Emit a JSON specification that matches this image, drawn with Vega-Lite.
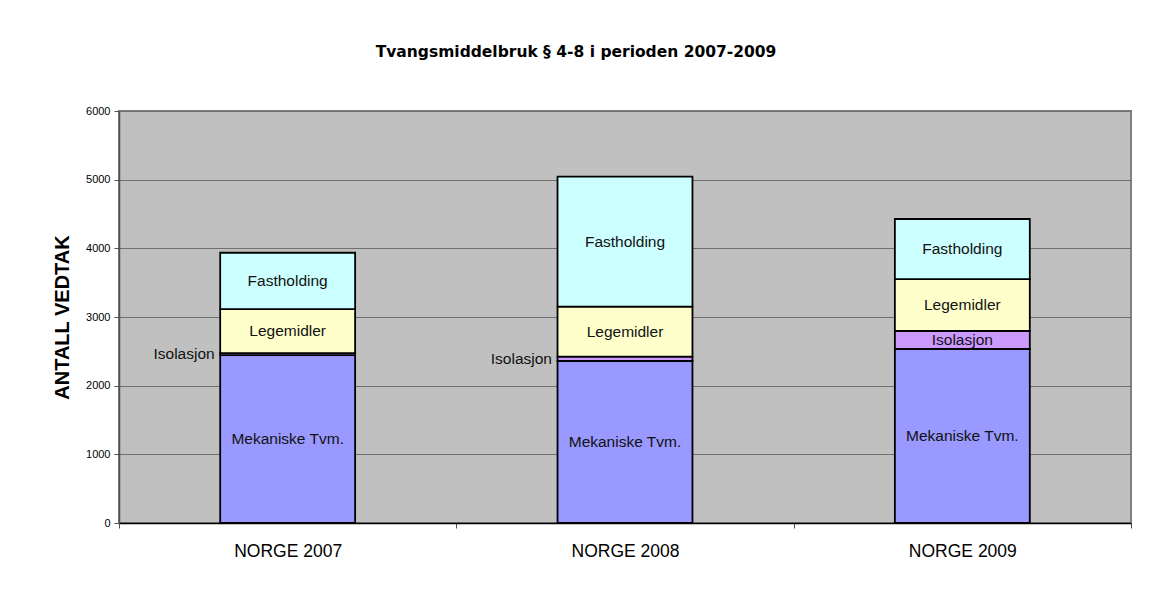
{
  "$schema": "https://vega.github.io/schema/vega-lite/v6.json",
  "width": 1012,
  "height": 412,
  "autosize": {"type": "none"},
  "padding": {"left": 119, "top": 111, "right": 20, "bottom": 68},
  "background": "white",
  "title": {
    "text": "Tvangsmiddelbruk § 4-8 i perioden 2007-2009",
    "font": "DejaVu Sans",
    "fontSize": 15.5,
    "fontWeight": "bold",
    "color": "black",
    "anchor": "middle",
    "frame": "group",
    "dx": -49,
    "offset": 45
  },
  "data": {
    "values": [
      {"year": "NORGE 2007", "type": "Mekaniske Tvm.", "value": 2445},
      {"year": "NORGE 2007", "type": "Isolasjon", "value": 30},
      {"year": "NORGE 2007", "type": "Legemidler", "value": 641},
      {"year": "NORGE 2007", "type": "Fastholding", "value": 820},
      {"year": "NORGE 2008", "type": "Mekaniske Tvm.", "value": 2359},
      {"year": "NORGE 2008", "type": "Isolasjon", "value": 63},
      {"year": "NORGE 2008", "type": "Legemidler", "value": 728},
      {"year": "NORGE 2008", "type": "Fastholding", "value": 1893},
      {"year": "NORGE 2009", "type": "Mekaniske Tvm.", "value": 2534},
      {"year": "NORGE 2009", "type": "Isolasjon", "value": 262},
      {"year": "NORGE 2009", "type": "Legemidler", "value": 757},
      {"year": "NORGE 2009", "type": "Fastholding", "value": 874}
    ]
  },
  "transform": [
    {"calculate": "indexof(['Mekaniske Tvm.','Isolasjon','Legemidler','Fastholding'], datum.type)", "as": "rank"},
    {"stack": "value", "groupby": ["year"], "sort": [{"field": "rank", "order": "ascending"}], "as": ["v0", "v1"]},
    {"calculate": "(datum.v0 + datum.v1) / 2", "as": "vmid"}
  ],
  "encoding": {
    "x": {
      "field": "year",
      "type": "nominal",
      "sort": null,
      "scale": {"paddingInner": 0, "paddingOuter": 0},
      "axis": {
        "title": null,
        "labelAngle": 0,
        "tickBand": "extent",
        "tickSize": 5,
        "tickColor": "#505050",
        "domainColor": "black",
        "domainWidth": 1.5,
        "labelFontSize": 17.5,
        "labelFont": "Liberation Sans",
        "labelColor": "black",
        "labelPadding": 14,
        "grid": false
      }
    }
  },
  "layer": [
    {
      "mark": {"type": "bar", "width": {"band": 0.4}, "stroke": "black", "strokeWidth": 1.8},
      "encoding": {
        "y": {
          "field": "v0",
          "type": "quantitative",
          "title": "ANTALL VEDTAK",
          "scale": {"domain": [0, 6000], "nice": false},
          "axis": {
            "values": [0, 1000, 2000, 3000, 4000, 5000, 6000],
            "format": "d",
            "grid": true,
            "gridColor": "#707070",
            "gridWidth": 1,
            "domainColor": "#505050",
            "domainWidth": 1.5,
            "tickColor": "#505050",
            "tickSize": 5,
            "labelFontSize": 11,
            "labelFont": "Liberation Sans",
            "labelColor": "black",
            "labelPadding": 4,
            "titleFontSize": 20,
            "titleFont": "Liberation Sans",
            "titleFontWeight": "bold",
            "titleColor": "black",
            "titlePadding": 13.5
          }
        },
        "y2": {"field": "v1"},
        "color": {
          "field": "type",
          "type": "nominal",
          "scale": {
            "domain": ["Mekaniske Tvm.", "Isolasjon", "Legemidler", "Fastholding"],
            "range": ["#9999FF", "#CC99FF", "#FFFFCC", "#CCFFFF"]
          },
          "legend": null
        }
      }
    },
    {
      "transform": [{"filter": "datum.value >= 100"}],
      "mark": {"type": "text", "align": "center", "baseline": "middle", "font": "Liberation Sans", "fontSize": 15.5, "color": "#111111"},
      "encoding": {
        "y": {"field": "vmid", "type": "quantitative", "title": "ANTALL VEDTAK"},
        "text": {"field": "type"}
      }
    },
    {
      "transform": [{"filter": "datum.value < 100"}],
      "mark": {"type": "text", "align": "right", "baseline": "middle", "dx": -73, "font": "Liberation Sans", "fontSize": 15.5, "color": "#111111"},
      "encoding": {
        "y": {"field": "vmid", "type": "quantitative", "title": "ANTALL VEDTAK"},
        "text": {"field": "type"}
      }
    }
  ],
  "config": {
    "view": {"fill": "#C0C0C0", "stroke": "#808080", "strokeWidth": 2}
  }
}
